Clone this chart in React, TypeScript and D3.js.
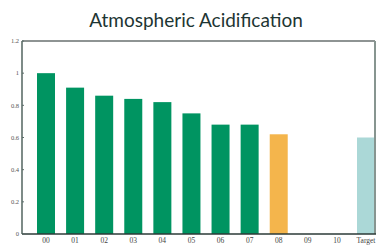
import { useRef, useEffect } from "react";
import * as d3 from "d3";

const categories = ["00", "01", "02", "03", "04", "05", "06", "07", "08", "09", "10", "Target"];
const values = [1.0, 0.91, 0.86, 0.84, 0.82, 0.75, 0.68, 0.68, 0.62, null, null, 0.6];
const barColors = ["#009461", "#009461", "#009461", "#009461", "#009461", "#009461", "#009461", "#009461", "#f4b54c", "#009461", "#009461", "#abd8d7"];
const yTicks = [0, 0.2, 0.4, 0.6, 0.8, 1, 1.2];

export default function App() {
  const svgRef = useRef<SVGSVGElement>(null);

  useEffect(() => {
    const svg = d3.select(svgRef.current);
    svg.selectAll("*").remove();

    const width = 387;
    const height = 246;
    const left = 22;
    const right = 375;
    const top = 41;
    const bottom = 234;
    const barW = 18;

    svg.attr("width", width).attr("height", height);

    const x = d3.scalePoint<string>().domain(categories).range([46, 366]);
    const y = d3.scaleLinear().domain([0, 1.2]).range([bottom, top]);

    // title
    svg
      .append("text")
      .attr("x", 196)
      .attr("y", 27)
      .attr("text-anchor", "middle")
      .style("font-family", "Lato, sans-serif")
      .attr("font-size", "19px")
      .attr("fill", "#1d3533")
      .text("Atmospheric Acidification");

    // bars
    svg
      .append("g")
      .selectAll("rect")
      .data(categories.map((c, i) => ({ c, v: values[i], color: barColors[i] })).filter((d) => d.v != null))
      .join("rect")
      .attr("x", (d) => (x(d.c) as number) - barW / 2)
      .attr("y", (d) => y(d.v as number))
      .attr("width", barW)
      .attr("height", (d) => bottom - y(d.v as number))
      .attr("fill", (d) => d.color);

    // frame
    svg.append("line").attr("x1", left).attr("x2", right).attr("y1", top).attr("y2", top)
      .attr("stroke", "#1e2a28").attr("stroke-width", 1.2);
    svg.append("line").attr("x1", right).attr("x2", right).attr("y1", top).attr("y2", bottom)
      .attr("stroke", "#879590").attr("stroke-width", 2);
    svg.append("line").attr("x1", left).attr("x2", left).attr("y1", top).attr("y2", bottom)
      .attr("stroke", "#5d6e6a").attr("stroke-width", 1.6);
    svg.append("line").attr("x1", left).attr("x2", right + 1).attr("y1", bottom).attr("y2", bottom)
      .attr("stroke", "#2b3a37").attr("stroke-width", 1.4);

    // y ticks
    const yt = svg.append("g");
    yt.selectAll("line")
      .data(yTicks)
      .join("line")
      .attr("x1", left)
      .attr("x2", left + 2)
      .attr("y1", (d) => y(d))
      .attr("y2", (d) => y(d))
      .attr("stroke", "#5d6e6a");
    yt.selectAll("text")
      .data(yTicks)
      .join("text")
      .attr("x", left - 3)
      .attr("y", (d) => y(d))
      .attr("dy", "0.35em")
      .attr("text-anchor", "end")
      .style("font-family", "'Liberation Serif', serif")
      .attr("font-size", "6.5px")
      .attr("fill", "#555")
      .text((d) => String(d));

    // x labels
    svg
      .append("g")
      .selectAll("text")
      .data(categories)
      .join("text")
      .attr("x", (d) => x(d) as number)
      .attr("y", 243)
      .attr("text-anchor", "middle")
      .style("font-family", "'Liberation Serif', serif")
      .attr("font-size", "7.5px")
      .attr("fill", "#444")
      .text((d) => d);
  }, []);

  return <svg ref={svgRef} style={{ position: "absolute", left: 0, top: 0 }} />;
}
